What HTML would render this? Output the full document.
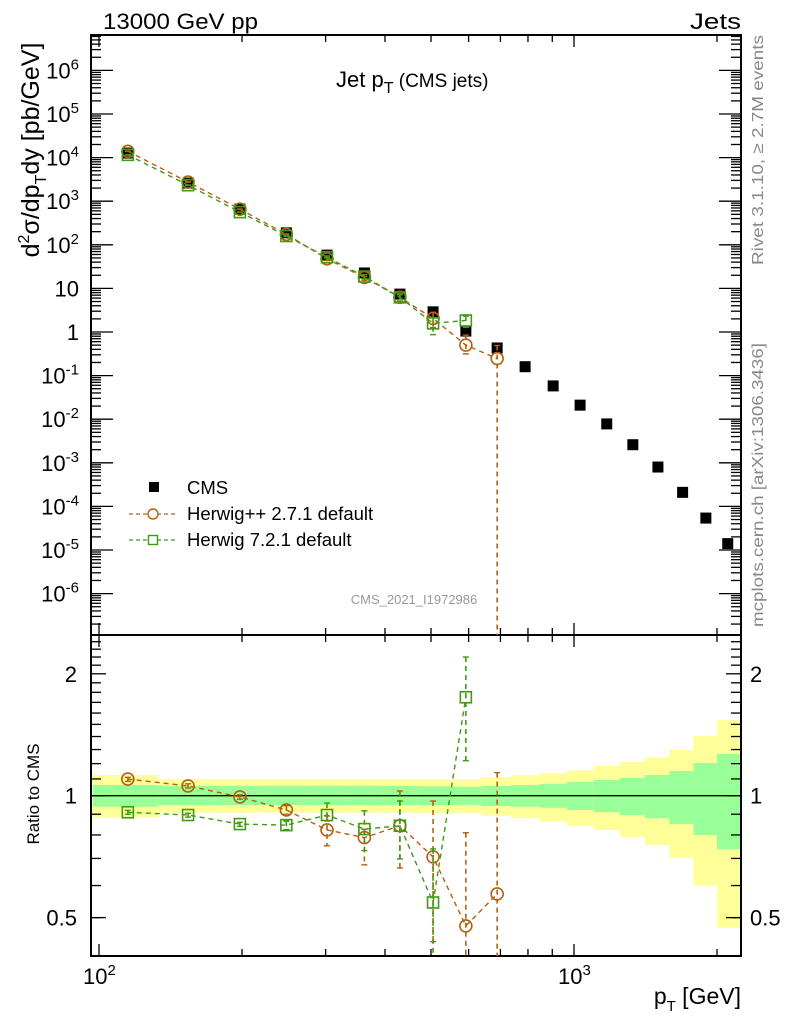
<!DOCTYPE html>
<html><head><meta charset="utf-8"><style>
html,body{margin:0;padding:0;background:#fff;}
svg{display:block;font-family:"Liberation Sans",sans-serif;}
</style></head><body>
<svg id="chart" width="786" height="1024" viewBox="0 0 786 1024" xmlns="http://www.w3.org/2000/svg">
<g id="bands"></g>
<g id="axes"></g>
<g id="series"></g>
<text x="103" y="29" font-size="22" textLength="155" lengthAdjust="spacingAndGlyphs">13000 GeV pp</text>
<text x="690" y="29" font-size="22" textLength="51" lengthAdjust="spacingAndGlyphs">Jets</text>
<text x="336" y="87" font-size="22">Jet p<tspan font-size="16" dy="6">T</tspan><tspan font-size="19" dy="-6"> (CMS jets)</tspan></text>
<text transform="translate(39,150) rotate(-90)" font-size="25" text-anchor="middle">d<tspan font-size="16" dy="-10">2</tspan><tspan dy="10">σ/dp</tspan><tspan font-size="16" dy="7">T</tspan><tspan dy="-7">dy [pb/GeV]</tspan></text>
<text transform="translate(39,794) rotate(-90)" font-size="17" text-anchor="middle">Ratio to CMS</text>
<text x="741" y="1004" font-size="23" text-anchor="end">p<tspan font-size="15" dy="7">T</tspan><tspan dy="-7"> [GeV]</tspan></text>
<text transform="translate(763,265) rotate(-90)" font-size="16" fill="#888" textLength="230" lengthAdjust="spacingAndGlyphs">Rivet 3.1.10, ≥ 2.7M events</text>
<text transform="translate(763,627) rotate(-90)" font-size="16" fill="#888" textLength="284" lengthAdjust="spacingAndGlyphs">mcplots.cern.ch [arXiv:1306.3436]</text>
<text x="414" y="604" font-size="13" fill="#999" text-anchor="middle">CMS_2021_I1972986</text>
<g id="legend"></g>
</svg>
<script>
// ---- data ----
const ptBins = [97,133,174,220,272,330,395,468,548,638,737,846,967,1101,1248,1410,1588,1784,2000,2238];
const ptCenters = [115,154,198,248,302,362,430,505,592,689,789,904,1030,1172,1330,1502,1693,1895,2107];
const cmsValues = [12700,2600,660,188,58,22.6,7.4,2.9,1.05,0.43,0.16,0.058,0.021,0.0078,0.0026,0.0008,0.00021,0.000054,0.000014];
const herwigPPRatio = [1.099,1.057,0.993,0.922,0.823,0.788,0.843,0.706,0.477,0.572];
const herwigPPLo = [1.085,1.045,0.98,0.90,0.752,0.675,0.663,0.436,0.30,0.0];
const herwigPPHi = [1.11,1.07,1.005,0.945,0.891,0.826,1.027,0.970,0.81,1.14];
const herwig7Ratio = [0.910,0.896,0.851,0.846,0.896,0.827,0.843,0.545,1.75];
const herwig7Lo = [0.90,0.885,0.84,0.825,0.866,0.732,0.698,0.30,1.22];
const herwig7Hi = [0.92,0.905,0.86,0.865,0.959,0.918,0.97,0.739,2.2];
const greenUp = [1.063,1.058,1.058,1.058,1.058,1.058,1.058,1.055,1.052,1.057,1.063,1.07,1.081,1.093,1.106,1.125,1.151,1.204,1.268];
const greenDn = [0.939,0.948,0.948,0.948,0.948,0.948,0.948,0.948,0.949,0.943,0.939,0.934,0.922,0.911,0.896,0.88,0.851,0.80,0.737];
const yellowUp = [1.125,1.098,1.098,1.098,1.098,1.098,1.098,1.098,1.10,1.11,1.123,1.136,1.155,1.184,1.211,1.244,1.297,1.404,1.537];
const yellowDn = [0.884,0.908,0.908,0.908,0.908,0.908,0.908,0.905,0.905,0.893,0.88,0.863,0.843,0.823,0.791,0.756,0.703,0.60,0.472];
const yMainTicks = [1e6,1e5,1e4,1e3,1e2,10,1,0.1,1e-2,1e-3,1e-4,1e-5,1e-6];
const yMainLabels = ["10|6","10|5","10|4","10|3","10|2","10","1","10|-1","10|-2","10|-3","10|-4","10|-5","10|-6"];
const ratioTicks = [0.5,1,2];
const ratioLabels = ["0.5","1","2"];

// ---- geometry ----
const L=91,R=741,T=35,M=635,B=956;
const X = v => 99 + 475*Math.log10(v/100);
const Y = v => 332 - 43.6*Math.log10(v);
const YR = v => 795.7 - 405*Math.log10(v);
const NS="http://www.w3.org/2000/svg";
function mk(tag, attrs, parent){const e=document.createElementNS(NS,tag);for(const k in attrs)e.setAttribute(k,attrs[k]);parent.appendChild(e);return e;}
const bands=document.getElementById('bands'), axes=document.getElementById('axes'), series=document.getElementById('series'), legend=document.getElementById('legend');

for(let i=0;i<ptCenters.length;i++){
  const x0=Math.max(L+1,X(ptBins[i])), x1=Math.min(R,X(ptBins[i+1]));
  const ry=mk('rect',{x:x0,y:YR(yellowUp[i]),width:x1-x0,height:YR(yellowDn[i])-YR(yellowUp[i]),fill:'#ffff99'},bands);
  
  
  const rg=mk('rect',{x:x0,y:YR(greenUp[i]),width:x1-x0,height:YR(greenDn[i])-YR(greenUp[i]),fill:'#99ff99'},bands);
  
  
}
mk('line',{x1:L,x2:R,y1:YR(1),y2:YR(1),stroke:'#000','stroke-width':1.3},bands);

const f1=mk('rect',{x:L,y:T,width:R-L,height:M-T,fill:'none',stroke:'#000','stroke-width':2},axes);


const f2=mk('rect',{x:L,y:M,width:R-L,height:B-M,fill:'none',stroke:'#000','stroke-width':2},axes);



function tick(x1,y1,x2,y2){mk('line',{x1,y1,x2,y2,stroke:'#000','stroke-width':1.3},axes);}
for(let d of [100,1000]) for(let m=1;m<10;m++){const v=d*m; if(v<97||v>2240) continue; const x=X(v); const len=m===1?12:7;
  tick(x,T,x,T+len); tick(x,M,x,M-len); tick(x,M,x,M+len); tick(x,B,x,B-len);}
for(let e=-7;e<=6;e++) for(let m=1;m<10;m++){const v=m*Math.pow(10,e); const y=Y(v); if(y<T||y>M) continue; const len=m===1?22:10;
  tick(L,y,L+len,y); tick(R,y,R-len,y);}
for(const v of [0.5,0.6,0.7,0.8,0.9,1.1,1.2,1.3,1.4,1.5,1.6,1.7,1.8,1.9,2.1,2.2,2.3,2.4]){const y=YR(v);tick(L,y,L+10,y);tick(R,y,R-10,y);}
for(const v of ratioTicks){const y=YR(v);tick(L,y,L+15,y);tick(R,y,R-15,y);}
yMainTicks.forEach((v,i)=>{const y=Y(v)+8;const p=yMainLabels[i].split('|');
  const t=mk('text',{x:79,y:y,'font-size':22,'text-anchor':'end'},axes);
  
  
  if(p.length>1){const a=mk('tspan',{},t);a.textContent=p[0];const b=mk('tspan',{'font-size':15,dy:-9},t);b.textContent=p[1];}
  else t.textContent=p[0];});
ratioTicks.forEach((v,i)=>{const y=YR(v)+8;
  const t=mk('text',{x:77,y:y,'font-size':22,'text-anchor':'end'},axes);t.textContent=ratioLabels[i];
  
  
  const t2=mk('text',{x:750,y:y,'font-size':22},axes);t2.textContent=ratioLabels[i];
  
  });
[[100,"2"],[1000,"3"]].forEach(([v,e])=>{const t=mk('text',{x:X(v)-16,y:984,'font-size':22},axes);
  
  
  const a=mk('tspan',{},t);a.textContent='10';const b=mk('tspan',{'font-size':15,dy:-9},t);b.textContent=e;});

const clipTop = y=>Math.max(T,Math.min(M,y)), clipR=y=>Math.max(M,Math.min(B,y));
ptCenters.forEach((p,i)=>{const r=mk('rect',{x:X(p)-5.5,y:Y(cmsValues[i])-5.5,width:11,height:11,fill:'#000'},series);
  
  });
function drawModel(ratio,lo,hi,color,shape,name){
  const g=mk('g',{},series);
  
  
  for(const panel of ['main','ratio']){
    const fy = panel==='main' ? (v,i)=>clipTop(v<=0?9999:Y(v*cmsValues[i])) : (v,i)=>clipR(v<=0?9999:YR(v));
    const pts=ratio.map((r,i)=>[X(ptCenters[i]),fy(r,i)]);
    mk('polyline',{points:pts.map(p=>p.join(',')).join(' '),fill:'none',stroke:color,'stroke-width':1.4,'stroke-dasharray':'5,4'},g);
    ratio.forEach((r,i)=>{const x=pts[i][0];const y1=fy(hi[i],i),y2=fy(lo[i],i);
      mk('line',{x1:x,x2:x,y1:y1,y2:y2,stroke:color,'stroke-width':1.6,'stroke-dasharray':'5,4'},g);
      if(y1>T+1&&y1<B-1) mk('line',{x1:x-3,x2:x+3,y1:y1,y2:y1,stroke:color,'stroke-width':1.4},g);
      if(y2<B-1&&y2<M-1||panel==='ratio'&&y2<B-1) mk('line',{x1:x-3,x2:x+3,y1:y2,y2:y2,stroke:color,'stroke-width':1.4},g);
      const y=pts[i][1];
      let m;
      if(shape==='circle') m=mk('circle',{cx:x,cy:y,r:6,fill:'none',stroke:color,'stroke-width':1.6},g);
      else m=mk('rect',{x:x-5.5,y:y-5.5,width:11,height:11,fill:'none',stroke:color,'stroke-width':1.6},g);
      
      
    });
  }
}
drawModel(herwigPPRatio,herwigPPLo,herwigPPHi,'#b5600f','circle','herwigpp-series');
drawModel(herwig7Ratio,herwig7Lo,herwig7Hi,'#3f9a15','square','herwig7-series');

const lc=mk('rect',{x:149,y:482,width:10,height:10,fill:'#000'},legend);


const entries=[['CMS',494],['Herwig++ 2.7.1 default',520],['Herwig 7.2.1 default',546]];
entries.forEach(([t,y],i)=>{const e=mk('text',{x:187,y:y,'font-size':18.5},legend);e.textContent=t;
  
  });
mk('line',{x1:129,x2:177,y1:514,y2:514,stroke:'#b5600f','stroke-width':1.3,'stroke-dasharray':'4,3'},legend);
mk('circle',{cx:153,cy:514,r:5,fill:'#fff',stroke:'#b5600f','stroke-width':1.4},legend);
mk('line',{x1:129,x2:177,y1:540,y2:540,stroke:'#3f9a15','stroke-width':1.3,'stroke-dasharray':'4,3'},legend);
mk('rect',{x:148.5,y:535.5,width:9,height:9,fill:'#fff',stroke:'#3f9a15','stroke-width':1.4},legend);
</script>
</body></html>
